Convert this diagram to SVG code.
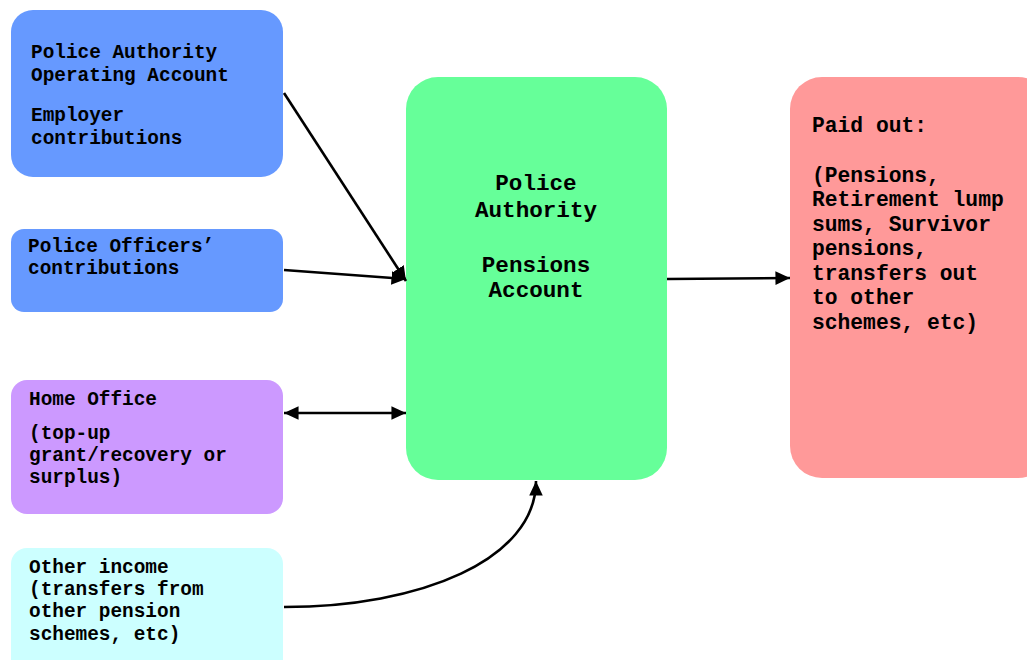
<svg xmlns="http://www.w3.org/2000/svg" width="1027" height="660" viewBox="0 0 1027 660">
<style>
text{font-family:"Liberation Mono","Courier New",monospace;font-weight:bold;fill:#000}
.s{font-size:19.4px}
.m{font-size:21.3px}
.l{font-size:22.6px}
.c{stroke:#000;stroke-width:2.6;fill:none}
</style>
<defs>
<marker id="ah" viewBox="0 0 10 10" refX="10" refY="5" markerWidth="5.6" markerHeight="5.2" orient="auto-start-reverse" markerUnits="strokeWidth" preserveAspectRatio="none">
<path d="M0,0 L10,5 L0,10 z" fill="#000"/>
</marker>
</defs>
<rect width="1027" height="660" fill="#fff"/>
<g id="n-operating">
<rect x="11" y="10" width="272" height="167" rx="22" fill="#6699FF"/>
<text class="s" x="31" y="58">Police Authority</text>
<text class="s" x="31" y="81">Operating Account</text>
<text class="s" x="31" y="121">Employer</text>
<text class="s" x="31" y="144">contributions</text>
</g>
<g id="n-officers">
<rect x="11" y="229" width="272" height="83" rx="13" fill="#6699FF"/>
<text class="s" x="28" y="252">Police Officers’</text>
<text class="s" x="28" y="274">contributions</text>
</g>
<g id="n-homeoffice">
<rect x="11" y="380" width="272" height="134" rx="16" fill="#CC99FF"/>
<text class="s" x="29" y="405">Home Office</text>
<text class="s" x="29" y="439">(top-up</text>
<text class="s" x="29" y="461">grant/recovery or</text>
<text class="s" x="29" y="483">surplus)</text>
</g>
<g id="n-other">
<rect x="11" y="548" width="272" height="130" rx="16" fill="#CCFFFF"/>
<text class="s" x="29" y="573">Other income</text>
<text class="s" x="29" y="595">(transfers from</text>
<text class="s" x="29" y="617">other pension</text>
<text class="s" x="29" y="640">schemes, etc)</text>
</g>
<g id="n-pensions">
<rect x="406" y="77" width="261" height="403" rx="32" fill="#66FF99"/>
<text class="l" x="536" y="190" text-anchor="middle">Police</text>
<text class="l" x="536" y="217" text-anchor="middle">Authority</text>
<text class="l" x="536" y="272" text-anchor="middle">Pensions</text>
<text class="l" x="536" y="297" text-anchor="middle">Account</text>
</g>
<g id="n-paidout">
<rect x="790" y="77" width="260" height="401" rx="32" fill="#FF9999"/>
<text class="m" x="812" y="132">Paid out:</text>
<text class="m" x="812" y="182">(Pensions,</text>
<text class="m" x="812" y="206">Retirement lump</text>
<text class="m" x="812" y="231">sums, Survivor</text>
<text class="m" x="812" y="255">pensions,</text>
<text class="m" x="812" y="280">transfers out</text>
<text class="m" x="812" y="304">to other</text>
<text class="m" x="812" y="329">schemes, etc)</text>
</g>
<g id="connectors">
<line class="c" x1="284" y1="93" x2="406" y2="281" marker-end="url(#ah)"/>
<line class="c" x1="284" y1="270" x2="406" y2="279" marker-end="url(#ah)"/>
<line class="c" x1="284" y1="413" x2="406" y2="413" marker-start="url(#ah)" marker-end="url(#ah)"/>
<path class="c" d="M284,607 C420,607 536,560 536,481" marker-end="url(#ah)"/>
<line class="c" x1="667" y1="279" x2="790" y2="278" marker-end="url(#ah)"/>
</g>
</svg>
